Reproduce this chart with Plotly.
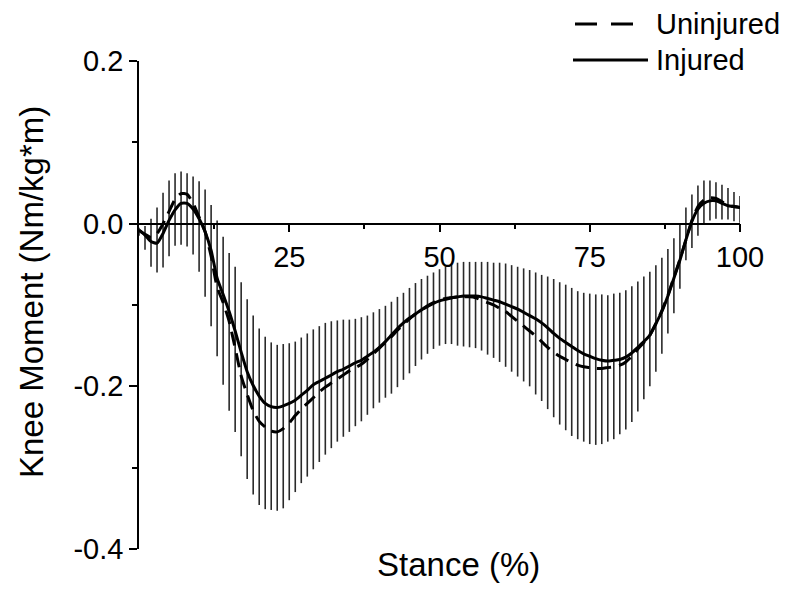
import plotly.graph_objects as go

stance = list(range(0, 101))

uninjured = [
    -0.008, -0.013, -0.017, -0.012, 0.000, 0.015, 0.030, 0.037, 0.036, 0.025,
    0.008, -0.010, -0.040, -0.078, -0.097, -0.120, -0.153, -0.187, -0.210, -0.230,
    -0.243, -0.250, -0.255, -0.256, -0.252, -0.245, -0.236, -0.228, -0.221, -0.214,
    -0.207, -0.201, -0.196, -0.191, -0.186, -0.181, -0.177, -0.173, -0.167, -0.160,
    -0.153, -0.146, -0.139, -0.131, -0.124, -0.117, -0.111, -0.106, -0.101, -0.097,
    -0.094, -0.092, -0.091, -0.090, -0.090, -0.090, -0.091, -0.094, -0.097, -0.100,
    -0.104, -0.108, -0.114, -0.120, -0.126, -0.132, -0.138, -0.145, -0.152, -0.158,
    -0.163, -0.167, -0.171, -0.174, -0.176, -0.177, -0.178, -0.178, -0.177, -0.176,
    -0.174, -0.170, -0.163, -0.154, -0.146, -0.137, -0.123, -0.107, -0.088, -0.066,
    -0.044, -0.020, 0.004, 0.021, 0.029, 0.032, 0.031, 0.027, 0.023, 0.021,
    0.020,
]

injured = [
    -0.008, -0.014, -0.022, -0.024, -0.012, 0.004, 0.017, 0.025, 0.025, 0.018,
    0.006, -0.010, -0.033, -0.067, -0.087, -0.108, -0.132, -0.158, -0.182, -0.199,
    -0.212, -0.221, -0.225, -0.226, -0.224, -0.221, -0.217, -0.211, -0.205, -0.198,
    -0.194, -0.190, -0.186, -0.182, -0.179, -0.175, -0.171, -0.168, -0.163, -0.158,
    -0.152, -0.145, -0.137, -0.129, -0.122, -0.116, -0.111, -0.106, -0.102, -0.098,
    -0.095, -0.093, -0.091, -0.090, -0.089, -0.089, -0.089, -0.090, -0.092, -0.094,
    -0.096, -0.099, -0.102, -0.105, -0.109, -0.113, -0.117, -0.122, -0.128, -0.135,
    -0.141, -0.146, -0.151, -0.156, -0.160, -0.163, -0.166, -0.168, -0.169, -0.168,
    -0.167, -0.164, -0.159, -0.152, -0.145, -0.137, -0.123, -0.108, -0.089, -0.067,
    -0.045, -0.020, 0.003, 0.018, 0.025, 0.028, 0.028, 0.025, 0.022, 0.021,
    0.020,
]

# upper and lower ends of the (uninjured) variability bars
bar_top = [
    -0.005, -0.003, 0.006, 0.020, 0.038, 0.053, 0.062, 0.064, 0.062, 0.058,
    0.052, 0.042, 0.023, 0.004, -0.016, -0.036, -0.053, -0.072, -0.093, -0.113,
    -0.129, -0.139, -0.146, -0.149, -0.148, -0.147, -0.145, -0.140, -0.135, -0.130,
    -0.126, -0.122, -0.120, -0.119, -0.118, -0.118, -0.117, -0.115, -0.113, -0.109,
    -0.105, -0.101, -0.096, -0.090, -0.085, -0.079, -0.073, -0.068, -0.064, -0.060,
    -0.056, -0.053, -0.050, -0.048, -0.047, -0.047, -0.047, -0.047, -0.047, -0.048,
    -0.048, -0.049, -0.051, -0.053, -0.055, -0.057, -0.060, -0.063, -0.065, -0.068,
    -0.072, -0.075, -0.079, -0.083, -0.085, -0.086, -0.087, -0.087, -0.088, -0.086,
    -0.085, -0.082, -0.077, -0.071, -0.065, -0.059, -0.051, -0.042, -0.031, -0.018,
    0.000, 0.020, 0.036, 0.047, 0.053, 0.053, 0.051, 0.048, 0.044, 0.039,
    0.034,
]

bar_bottom = [
    -0.015, -0.032, -0.053, -0.060, -0.054, -0.040, -0.027, -0.026, -0.028, -0.038,
    -0.059, -0.090, -0.126, -0.163, -0.198, -0.230, -0.256, -0.286, -0.314, -0.333,
    -0.346, -0.351, -0.352, -0.353, -0.350, -0.340, -0.330, -0.319, -0.311, -0.302,
    -0.293, -0.284, -0.276, -0.268, -0.262, -0.256, -0.249, -0.243, -0.235, -0.227,
    -0.220, -0.214, -0.209, -0.201, -0.192, -0.184, -0.175, -0.167, -0.160, -0.154,
    -0.150, -0.148, -0.148, -0.150, -0.151, -0.152, -0.153, -0.156, -0.161, -0.165,
    -0.170, -0.176, -0.182, -0.188, -0.194, -0.200, -0.210, -0.218, -0.228, -0.238,
    -0.247, -0.254, -0.261, -0.265, -0.268, -0.271, -0.272, -0.271, -0.268, -0.265,
    -0.259, -0.253, -0.244, -0.231, -0.216, -0.200, -0.182, -0.160, -0.135, -0.110,
    -0.080, -0.045, -0.030, -0.015, 0.000, 0.004, 0.006, 0.005, 0.005, 0.003,
    0.001,
]

y_tickvals = [0.2, 0.0, -0.2, -0.4]
y_ticktext = ["0.2", "0.0", "-0.2", "-0.4"]
x_tickvals = [25, 50, 75, 100]
x_ticktext = ["25", "50", "75", "100"]

FONT = "Liberation Sans, Arial, sans-serif"

bar_mid = [(t + b) / 2 for t, b in zip(bar_top, bar_bottom)]
bar_half = [(t - b) / 2 for t, b in zip(bar_top, bar_bottom)]

fig = go.Figure()

fig.add_trace(go.Scatter(
    x=stance, y=bar_mid, mode="markers",
    marker=dict(size=1, color="rgba(0,0,0,0)"),
    error_y=dict(type="data", array=bar_half, symmetric=True,
                 color="#2a2a2a", thickness=1.6, width=0),
    showlegend=False, hoverinfo="skip",
))

fig.add_trace(go.Scatter(
    x=stance, y=uninjured, mode="lines", name="Uninjured",
    line=dict(color="black", width=3, dash="14px,8px", shape="spline", smoothing=0.6),
    showlegend=False,
))

fig.add_trace(go.Scatter(
    x=stance, y=injured, mode="lines", name="Injured",
    line=dict(color="black", width=3, shape="spline", smoothing=0.6),
    showlegend=False,
))

L, R, T, B = 139, 53, 61, 40
W, H = 793, 589
pw, ph = W - L - R, H - T - B

def px2paper_x(px):
    return (px - L) / pw

def py2paper_y(py):
    return (H - B - py) / ph

# manual legend
fig.add_shape(type="line", xref="paper", yref="paper",
              x0=px2paper_x(575), x1=px2paper_x(640), y0=py2paper_y(24), y1=py2paper_y(24),
              line=dict(color="black", width=3, dash="22px,14px"))
fig.add_shape(type="line", xref="paper", yref="paper",
              x0=px2paper_x(573), x1=px2paper_x(648), y0=py2paper_y(60), y1=py2paper_y(60),
              line=dict(color="black", width=3))
fig.add_annotation(text="Uninjured", xref="paper", yref="paper",
                   x=px2paper_x(654), y=py2paper_y(24), xanchor="left", yanchor="middle",
                   showarrow=False, font=dict(family=FONT, size=29, color="black"))
fig.add_annotation(text="Injured", xref="paper", yref="paper",
                   x=px2paper_x(654), y=py2paper_y(60), xanchor="left", yanchor="middle",
                   showarrow=False, font=dict(family=FONT, size=29, color="black"))

# axis titles
fig.add_annotation(text="Knee Moment (Nm/kg*m)", xref="paper", yref="paper",
                   x=px2paper_x(31), y=py2paper_y(292), xanchor="center", yanchor="middle",
                   textangle=-90, showarrow=False,
                   font=dict(family=FONT, size=33, color="black"))
fig.add_annotation(text="Stance (%)", xref="paper", yref="paper",
                   x=px2paper_x(458), y=py2paper_y(564), xanchor="center", yanchor="middle",
                   showarrow=False, font=dict(family=FONT, size=33, color="black"))

fig.update_layout(
    width=W, height=H,
    margin=dict(l=L, r=R, t=T, b=B, pad=0),
    paper_bgcolor="white", plot_bgcolor="white",
    font=dict(family=FONT, color="black"),
    xaxis=dict(
        range=[0, 100], anchor="free", position=2 / 3,
        showgrid=False, zeroline=False,
        showline=True, linecolor="black", linewidth=1.5,
        tickmode="array", tickvals=x_tickvals, ticktext=x_ticktext,
        ticks="outside", ticklen=8, tickwidth=1.5, tickcolor="black",
        minor=dict(ticks="outside", ticklen=5, tickwidth=1.5, tickcolor="black",
                   tickvals=[12.5, 37.5, 62.5, 87.5], showgrid=False),
        tickfont=dict(family=FONT, size=29, color="black"),
    ),
    yaxis=dict(
        range=[-0.4, 0.2],
        showgrid=False, zeroline=False,
        showline=True, linecolor="black", linewidth=1.5,
        tickmode="array", tickvals=y_tickvals, ticktext=y_ticktext,
        ticks="outside", ticklen=8, tickwidth=1.5, tickcolor="black",
        minor=dict(ticks="outside", ticklen=5, tickwidth=1.5, tickcolor="black",
                   tickvals=[0.1, -0.1, -0.3], showgrid=False),
        tickfont=dict(family=FONT, size=29, color="black"),
    ),
)

fig.write_html("out.html", config={"displayModeBar": False},
               post_script="document.body.style.margin='0';")
